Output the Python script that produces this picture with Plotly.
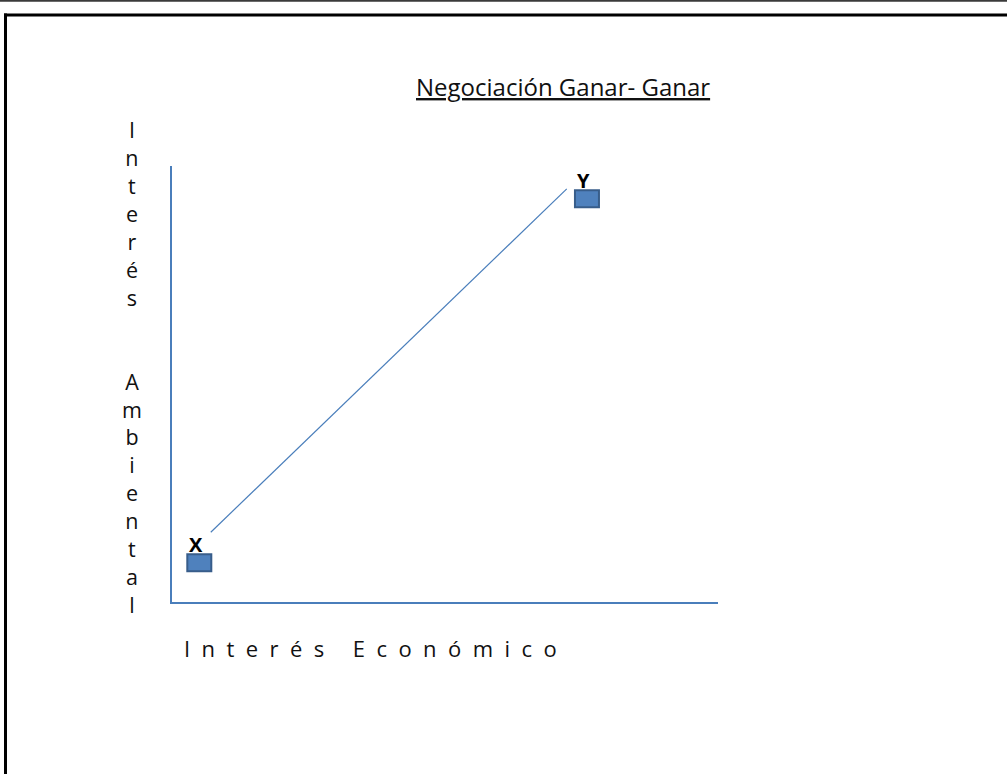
import plotly.graph_objects as go

W, H = 1007, 774

# --- data ---
point_labels = ["X", "Y"]
point_x = [0.5, 7.6]
point_y = [0.72, 7.4]
line_x = [0.71, 7.23]
line_y = [1.28, 7.58]

title_text = "Negociación Ganar- Ganar"
y_title_letters = ["I", "n", "t", "e", "r", "é", "s", "", "", "A", "m", "b", "i", "e", "n", "t", "a", "l"]
x_title_words = ["Interés", "Económico"]

FONT = "Open Sans"
BLUE = "#4A7EBB"

fig = go.Figure()
fig.add_trace(go.Scatter(x=line_x, y=line_y, mode="lines",
                         line=dict(color=BLUE, width=1.2), hoverinfo="skip",
                         showlegend=False))

shapes = []
annotations = []
for lab, px, py in zip(point_labels, point_x, point_y):
    shapes.append(dict(type="rect", xref="x", yref="y", xsizemode="pixel", ysizemode="pixel",
                       xanchor=px, yanchor=py, x0=-12, x1=12, y0=-8.5, y1=8.5,
                       fillcolor="#4F81BD", line=dict(color="#385D8A", width=2)))
    annotations.append(dict(x=px, y=py, xref="x", yref="y", text="<b>%s</b>" % lab,
                            showarrow=False, xshift=-3, yshift=18,
                            font=dict(family=FONT, size=20, color="black")))

# page frame
shapes.append(dict(type="line", xref="paper", yref="paper", x0=0, x1=1,
                   y0=1 - 0.8 / H, y1=1 - 0.8 / H, line=dict(color="#3a3a3a", width=2)))
shapes.append(dict(type="line", xref="paper", yref="paper", x0=4 / W, x1=1.01,
                   y0=1 - 15 / H, y1=1 - 15 / H, line=dict(color="black", width=3)))
shapes.append(dict(type="line", xref="paper", yref="paper", x0=5.5 / W, x1=5.5 / W,
                   y0=1 - 13.5 / H, y1=-0.01, line=dict(color="black", width=3)))

# title
annotations.append(dict(x=563 / W, y=1 - 86 / H, xref="paper", yref="paper",
                        text="<u>%s</u>" % title_text, showarrow=False,
                        xanchor="center", yanchor="middle",
                        font=dict(family=FONT, size=24, color="#111")))
# vertical y title
annotations.append(dict(x=132 / W, y=1 - 367 / H, xref="paper", yref="paper",
                        text="<br>".join(c if c else "\u00a0" for c in y_title_letters),
                        showarrow=False, xanchor="center", yanchor="middle",
                        font=dict(family=FONT, size=21.5, color="#111")))
# x title
sp = "\u00a0\u00a0"
xt = ("\u00a0" * 5).join(sp.join(list(w)) for w in x_title_words)
annotations.append(dict(x=370 / W, y=1 - 648 / H, xref="paper", yref="paper",
                        text=xt, showarrow=False, xanchor="center", yanchor="middle",
                        font=dict(family=FONT, size=22, color="#111")))

fig.update_layout(
    width=W, height=H, margin=dict(l=0, r=0, t=0, b=0),
    paper_bgcolor="white", plot_bgcolor="white",
    xaxis=dict(domain=[172 / W, 718 / W], range=[0, 10], showline=True, linecolor=BLUE,
               linewidth=1.5, showgrid=False, zeroline=False, showticklabels=False, ticks=""),
    yaxis=dict(domain=[1 - 602 / H, 1 - 166 / H], range=[0, 8], showline=True, linecolor=BLUE,
               linewidth=1.5, showgrid=False, zeroline=False, showticklabels=False, ticks=""),
    shapes=shapes, annotations=annotations, showlegend=False,
)
fig.write_html("out.html")
